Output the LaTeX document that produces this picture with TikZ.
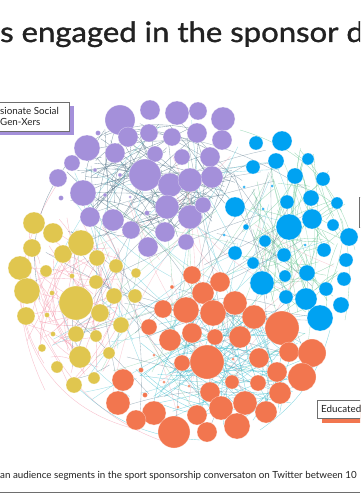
\documentclass[tikz,border=0pt]{standalone}
\usepackage{fontspec}
\setmainfont{Lato}
\newfontfamily\titlefont{Lato}[FakeBold=1.2, FakeStretch=1.11]
\definecolor{cP}{HTML}{A490DA}
\definecolor{cB}{HTML}{00A2F2}
\definecolor{cY}{HTML}{E0C64F}
\definecolor{cO}{HTML}{F2764F}
\definecolor{eP}{HTML}{4F7186}
\definecolor{eB}{HTML}{6FC998}
\definecolor{eY}{HTML}{F59AAE}
\definecolor{eO}{HTML}{3FBFD0}
\definecolor{ink}{HTML}{222222}
\definecolor{frame}{HTML}{6E6E6E}
\tikzset{
  edge/.style={line width=0.35pt, opacity=0.65},
  bubble/.style={draw=white, draw opacity=0.5, line width=0.4pt},
  lbox/.style={draw=frame, fill=white, line width=0.8pt, inner sep=0pt},
  ltext/.style={font=\fontsize{9.8}{11}\selectfont, text=ink, inner sep=0pt},
}
\begin{document}
\begin{tikzpicture}[x=1pt,y=-1pt]
\useasboundingbox (0,0) rectangle (360,500);
\fill[white] (0,0) rectangle (360,500);
\clip (0,0) rectangle (360,500);
\pgfmathsetseed{11}
% --- edges inside clusters
\foreach \cx/\cy/\rx/\ry/\n/\col in {150/180/85/62/90/eP, 295/235/55/90/80/eB, 75/300/55/85/70/eY, 225/360/90/70/90/eO}{
  \foreach \i in {1,...,\n}{
    \pgfmathsetmacro\ta{rnd*360}\pgfmathsetmacro\ra{sqrt(rnd)}
    \pgfmathsetmacro\tb{rnd*360}\pgfmathsetmacro\rb{sqrt(rnd)}
    \pgfmathsetmacro\bb{rand*25}
    \coordinate (ea) at ({\cx+\rx*\ra*cos(\ta)},{\cy+\ry*\ra*sin(\ta)});
    \coordinate (eb) at ({\cx+\rx*\rb*cos(\tb)},{\cy+\ry*\rb*sin(\tb)});
    \draw[edge, color=\col] (ea) to[bend left=\bb] (eb);
  }
}
% --- cross-cluster edges
\foreach \col in {eP,eO,eY,eB,eP,eO,eP}{
  \foreach \i in {1,...,16}{
    \pgfmathsetmacro\ta{rnd*360}\pgfmathsetmacro\ra{sqrt(rnd)}
    \pgfmathsetmacro\tb{rnd*360}\pgfmathsetmacro\rb{sqrt(rnd)}
    \pgfmathsetmacro\bb{rand*20}
    \coordinate (ea) at ({185+150*\ra*cos(\ta)},{275+160*\ra*sin(\ta)});
    \coordinate (eb) at ({185+150*\rb*cos(\tb)},{275+160*\rb*sin(\tb)});
    \draw[edge, color=\col, opacity=0.5] (ea) to[bend left=\bb] (eb);
  }
}
% --- long boundary arcs
\draw[edge, color=eY] (30,230) to[bend right=40] (175,445);
\draw[edge, color=eY] (20,300) to[bend right=35] (140,430);
\draw[edge, color=eY] (60,180) to[bend right=30] (45,390);
\draw[edge, color=eO] (75,385) to[bend right=20] (200,440);
\draw[edge, color=eB] (240,130) to[bend left=30] (355,250);
\draw[edge, color=eB] (300,150) to[bend left=25] (345,320);
\draw[edge, color=eP] (70,160) to[bend right=25] (40,300);
\draw[edge, color=eO] (330,330) to[bend left=20] (260,430);
% --- purple cluster
\foreach \x/\y/\r in {120/120/15, 150/110/10, 177/113/12, 198/111/9, 223/119/12, 128/137/10, 149/133/9, 172/137/9, 197/133/10, 222/140/10, 87/148/13, 115/153/10, 155/154/8, 182/157/8, 210/157/10, 72/163/8, 58/178/9, 145/175/16, 170/185/12, 190/180/12, 212/177/11, 83/193/13, 90/217/10, 113/220/11, 131/230/9, 167/207/12, 190/217/12, 203/205/8, 165/232/10, 148/247/10, 186/242/8, 98/133/2.5, 61/198/2.5, 95/170/2, 105/195/2, 120/175/2, 147/213/2.5, 130/197/1.5}
  \fill[cP, bubble] (\x,\y) circle[radius=\r pt];
% --- blue cluster
\foreach \x/\y/\r in {256/143/7, 282/141/10, 253/167/7, 276/161/8, 308/159/6, 295/176/8, 323/179/7, 235/207/10, 287/202/7, 311/198/8, 337/203/6, 289/227/13, 312/219/10, 333/225/6, 349/237/9, 265/241/6, 246/227/3, 235/253/7, 253/263/6, 284/255/7, 324/250/7, 346/260/7, 262/283/12, 285/276/6, 307/273/8, 344/279/7, 286/297/7, 306/299/11, 326/289/7, 341/305/8, 320/318/13, 244/187/1.5, 272/186/1.5, 263/209/1.5, 224/235/1.5, 305/245/1.5}
  \fill[cB, bubble] (\x,\y) circle[radius=\r pt];
% --- yellow cluster
\foreach \x/\y/\r in {34/223/11, 53/233/10, 32/248/9, 20/268/12, 27/291/13, 26/316/9, 46/271/6, 63/254/9, 81/243/13, 97/258/8, 116/266/7, 136/273/5, 96/282/7, 114/296/8, 135/296/7, 76/303/17, 100/313/9, 121/325/8, 76/334/8, 96/336/6, 80/357/11, 109/353/6, 42/348/4, 57/367/6, 94/378/6, 74/385/8, 72/276/2.5, 52/293/2.5, 47/315/2.5, 53/334/2.5}
  \fill[cY, bubble] (\x,\y) circle[radius=\r pt];
% --- orange cluster
\foreach \x/\y/\r in {192/275/9, 220/282/10, 203/293/11, 163/309/9, 186/310/13, 213/313/13, 235/303/12, 254/317/12, 282/328/17, 149/327/8, 170/340/11, 192/333/10, 215/337/8, 240/337/11, 259/358/10, 289/352/10, 312/353/14, 207/362/17, 182/363/8, 277/372/10, 302/377/14, 123/380/11, 232/382/7, 258/383/8, 210/392/10, 280/393/11, 118/403/12, 154/413/12, 221/408/12, 245/403/12, 266/412/11, 136/420/10, 174/432/16, 197/415/10, 207/432/10, 237/426/13, 172/287/2, 141/370/2.5, 154/355/1.5, 164/382/1.5, 189/386/1.5, 145/395/2.5, 178/407/1.5, 233/359/1.5}
  \fill[cO, bubble] (\x,\y) circle[radius=\r pt];
% --- title
\node[anchor=base west, inner sep=0pt, text=ink, font=\titlefont\fontsize{28}{30}\selectfont] (title) at (0,42) {s engaged in the sponsor d};
% --- left label
\fill[cP] (-40,106) rectangle (74,135);
\node[lbox, minimum width=110pt, minimum height=29pt, anchor=north east] (lp) at (70,102) {};
\node[ltext, anchor=base west] (lpa) at (0,114) {sionate Social};
\node[ltext, anchor=base west] (lpb) at (0,125) {Gen-Xers};
% --- right label (blue)
\node[lbox, minimum width=30pt, minimum height=30pt, anchor=north west] (lb) at (359,197) {};
% --- bottom-right label
\fill[cO] (322,404) rectangle (380,423);
\node[lbox, minimum width=60pt, minimum height=18pt, anchor=north west] (lo) at (317,400) {};
\node[ltext, anchor=base west] (loa) at (321,412.5) {Educated};
% --- caption
\node[anchor=base west, inner sep=0pt, text=ink, font=\fontsize{9.8}{11}\selectfont] (cap) at (0,478) {an audience segments in the sport sponsorship conversaton on Twitter between 10};
\draw[frame, line width=0.8pt] (0,492) -- (360,492);
\end{tikzpicture}
\end{document}
